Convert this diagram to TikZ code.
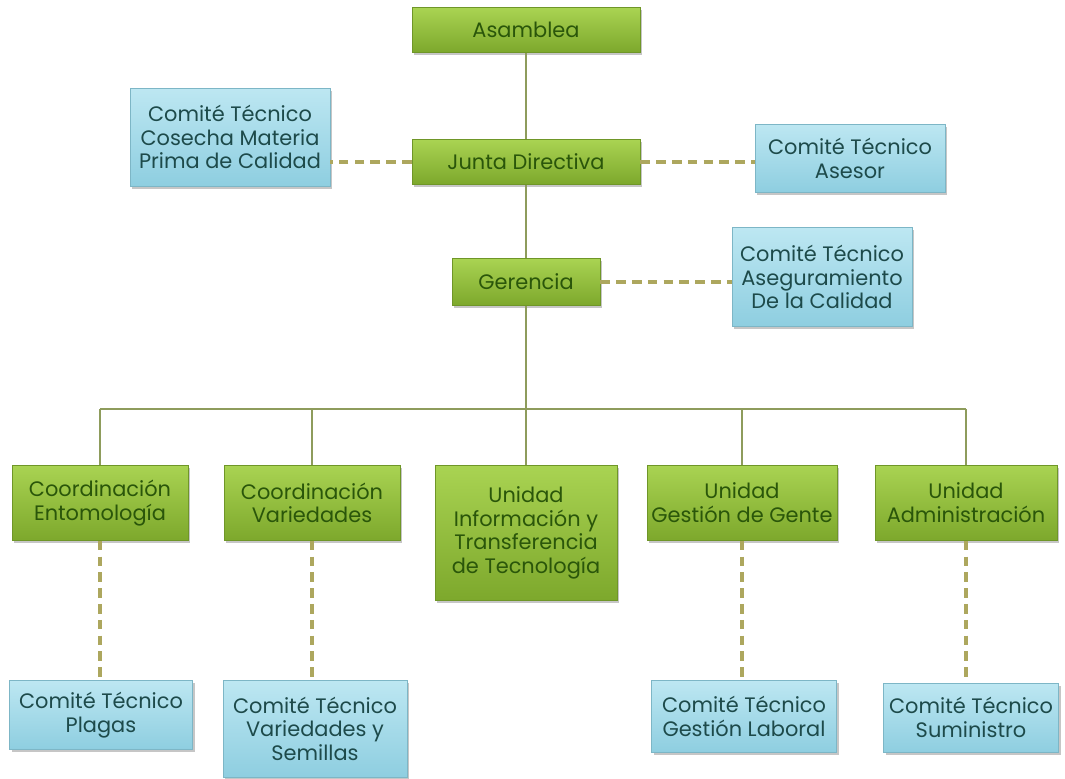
\documentclass[tikz,border=0pt]{standalone}
\usepackage{fontspec}
\setmainfont{Poppins}
\usepackage{xcolor}
\usepackage{tikz}
\usetikzlibrary{shadows}

\definecolor{greentop}{HTML}{A9D352}
\definecolor{greenbot}{HTML}{7DA82C}
\definecolor{greenline}{HTML}{6F9628}
\definecolor{greentext}{HTML}{2A560A}
\definecolor{bluetop}{HTML}{BDE7F2}
\definecolor{bluebot}{HTML}{8ECEE0}
\definecolor{blueline}{HTML}{7DB6C6}
\definecolor{bluetext}{HTML}{1D4A4A}
\definecolor{linkcol}{HTML}{8E9C5C}
\definecolor{dashcol}{HTML}{ADA75E}

\tikzset{
  unitbox/.style={draw=greenline, line width=0.4pt, top color=greentop, bottom color=greenbot,
    text=greentext, align=center, inner sep=2pt,
    drop shadow={shadow xshift=1.2pt, shadow yshift=-1.5pt, opacity=0.45}},
  comitebox/.style={draw=blueline, line width=0.4pt, top color=bluetop, bottom color=bluebot,
    text=bluetext, align=center, inner sep=2pt,
    drop shadow={shadow xshift=1.2pt, shadow yshift=-1.5pt, opacity=0.45}},
  mainlink/.style={draw=linkcol, line width=1.3pt},
  advlink/.style={draw=dashcol, line width=2pt, dash pattern=on 5.5pt off 3.5pt}
}

\begin{document}
\begin{tikzpicture}[x=0.02cm, y=-0.02cm, font=\fontsize{11.9}{13.6}\selectfont]
  \useasboundingbox (0,0) rectangle (1065,778);

  % top of the chart
  \node[unitbox, minimum width=4.56cm, minimum height=0.9cm] (asamblea) at (526,30) {Asamblea};
  \node[unitbox, minimum width=4.56cm, minimum height=0.9cm] (junta) at (526,162) {Junta Directiva};
  \node[unitbox, minimum width=2.96cm, minimum height=0.94cm] (gerencia) at (526,282) {Gerencia};

  \node[comitebox, minimum width=4cm, minimum height=1.96cm] (cosecha) at (230,137)
    {Comité Técnico\\Cosecha Materia\\Prima de Calidad};
  \node[comitebox, minimum width=3.8cm, minimum height=1.36cm] (asesor) at (850,158)
    {Comité Técnico\\Asesor};
  \node[comitebox, minimum width=3.6cm, minimum height=1.98cm] (asegura) at (822,277)
    {Comité Técnico\\Aseguramiento\\De la Calidad};

  % units
  \node[unitbox, minimum width=3.52cm, minimum height=1.5cm, anchor=north] (entomo) at (100,465)
    {Coordinación\\Entomología};
  \node[unitbox, minimum width=3.52cm, minimum height=1.5cm, anchor=north] (varied) at (312,465)
    {Coordinación\\Variedades};
  \node[unitbox, minimum width=3.64cm, minimum height=2.7cm, anchor=north] (info) at (526,465)
    {Unidad\\Información y\\Transferencia\\de Tecnología};
  \node[unitbox, minimum width=3.8cm, minimum height=1.5cm, anchor=north] (gente) at (742,465)
    {Unidad\\Gestión de Gente};
  \node[unitbox, minimum width=3.64cm, minimum height=1.5cm, anchor=north] (admin) at (966,465)
    {Unidad\\Administración};

  % committees at the bottom
  \node[comitebox, minimum width=3.66cm, minimum height=1.38cm, anchor=north] (plagas) at (101,680)
    {Comité Técnico\\Plagas};
  \node[comitebox, minimum width=3.68cm, minimum height=1.94cm, anchor=north] (semillas) at (315,680)
    {Comité Técnico\\Variedades y\\Semillas};
  \node[comitebox, minimum width=3.7cm, minimum height=1.44cm, anchor=north] (laboral) at (744,680)
    {Comité Técnico\\Gestión Laboral};
  \node[comitebox, minimum width=3.5cm, minimum height=1.38cm, anchor=north] (suministro) at (971,683)
    {Comité Técnico\\Suministro};

  \coordinate (bar) at (526,409);

  \draw[mainlink] (asamblea) -- (junta);
  \draw[mainlink] (junta) -- (gerencia);
  \draw[mainlink] (gerencia) -- (bar);
  \foreach \u in {entomo,varied,info,gente,admin}
    \draw[mainlink] (\u.north) -- (\u.north |- bar);
  \draw[mainlink] (entomo.north |- bar) -- (admin.north |- bar);

  \draw[advlink] (junta.west) -- (junta.west -| cosecha.east);
  \draw[advlink] (junta.east) -- (junta.east -| asesor.west);
  \draw[advlink] (gerencia.east) -- (gerencia.east -| asegura.west);
  \foreach \a/\b in {entomo/plagas,varied/semillas,gente/laboral,admin/suministro}
    \draw[advlink] (\a.south) -- (\a.south |- \b.north);
\end{tikzpicture}
\end{document}
